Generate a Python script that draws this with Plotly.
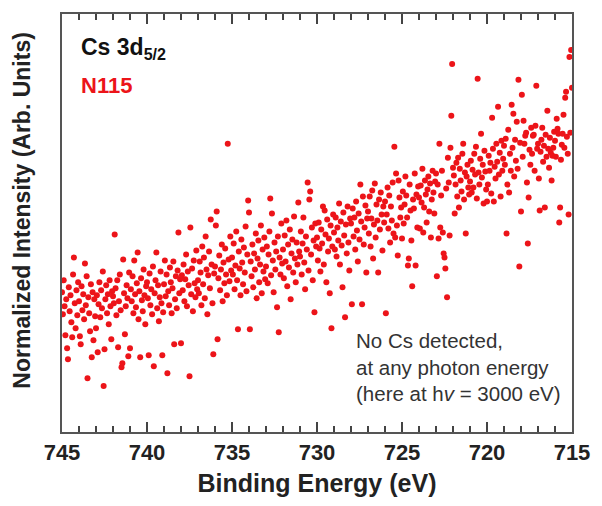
import plotly.graph_objects as go

# Binding-energy grid of the measurement (eV), start and step
energy_start = 745.0
energy_step = 0.05

# Intensity (arb. units), one row per 1 eV (745 -> 715)
intensity_rows = [
    [140, 118, 152, 126, 97, 133, 84, 73, 145, 121, 137, 110, 95, 158, 175, 129, 104, 142, 117, 150],
    [131, 96, 88, 146, 122, 138, 113, 169, 127, 156, 54, 135, 119, 101, 148, 75, 140, 92, 133, 116],
    [104, 137, 80, 128, 150, 115, 142, 124, 161, 46, 83, 133, 147, 119, 138, 108, 152, 126, 93, 141],
    [136, 129, 198, 144, 117, 152, 85, 131, 158, 122, 65, 69, 173, 139, 98, 126, 147, 134, 76, 160],
    [84, 143, 131, 156, 119, 172, 138, 125, 149, 180, 113, 141, 75, 154, 132, 121, 163, 137, 108, 146],
    [150, 134, 77, 159, 127, 143, 118, 166, 66, 139, 152, 180, 124, 147, 111, 135, 161, 129, 77, 120],
    [148, 172, 136, 158, 59, 141, 127, 165, 150, 119, 144, 171, 88, 133, 156, 124, 162, 200, 139, 153],
    [89, 157, 142, 168, 131, 153, 178, 126, 161, 147, 56, 205, 138, 164, 121, 172, 149, 135, 182, 143],
    [152, 139, 171, 160, 127, 186, 148, 175, 134, 196, 163, 118, 157, 181, 144, 213, 168, 129, 78, 159],
    [166, 207, 221, 93, 154, 177, 142, 163, 188, 131, 170, 149, 184, 158, 137, 289, 173, 151, 196, 162],
    [175, 158, 189, 143, 167, 201, 152, 103, 181, 164, 137, 193, 170, 148, 185, 160, 206, 141, 178, 232],
    [220, 103, 171, 156, 188, 145, 179, 163, 199, 134, 174, 192, 150, 168, 207, 139, 183, 161, 195, 153],
    [166, 186, 149, 178, 201, 234, 157, 219, 172, 140, 190, 163, 181, 125, 196, 100, 175, 158, 209, 169],
    [183, 154, 197, 171, 212, 146, 188, 165, 203, 133, 179, 193, 160, 216, 174, 150, 190, 168, 230, 181],
    [176, 201, 158, 189, 215, 170, 143, 196, 183, 250, 162, 233, 241, 178, 205, 152, 192, 120, 209, 186],
    [195, 172, 210, 184, 161, 203, 189, 226, 168, 222, 198, 150, 213, 181, 194, 139, 207, 104, 186, 218],
    [200, 183, 215, 176, 205, 192, 229, 168, 211, 187, 145, 220, 197, 115, 208, 179, 226, 190, 162, 214],
    [209, 128, 224, 196, 215, 183, 231, 202, 171, 219, 193, 248, 211, 128, 236, 188, 205, 227, 160, 214],
    [221, 199, 236, 186, 214, 242, 174, 208, 249, 195, 228, 212, 160, 233, 203, 240, 218, 182, 226, 210],
    [231, 119, 218, 245, 204, 237, 190, 226, 212, 250, 199, 286, 195, 259, 207, 177, 252, 235, 215, 225],
    [194, 241, 209, 228, 256, 237, 215, 167, 174, 248, 222, 192, 146, 233, 224, 259, 167, 238, 205, 246],
    [235, 204, 247, 230, 264, 200, 225, 252, 238, 210, 243, 256, 221, 249, 195, 233, 262, 240, 219, 251],
    [259, 156, 248, 194, 289, 205, 237, 262, 200, 179, 175, 164, 244, 135, 275, 250, 197, 285, 317, 369],
    [265, 257, 219, 248, 270, 236, 275, 225, 264, 252, 241, 279, 289, 233, 260, 199, 256, 268, 245, 238],
    [251, 272, 240, 263, 245, 279, 258, 286, 234, 354, 260, 248, 274, 299, 255, 268, 229, 282, 261, 243],
    [231, 248, 277, 262, 270, 239, 315, 284, 231, 266, 254, 289, 271, 326, 258, 280, 236, 292, 262, 274],
    [287, 268, 294, 199, 248, 303, 240, 279, 262, 328, 285, 319, 256, 293, 272, 311, 264, 353, 166, 290],
    [221, 338, 276, 312, 289, 297, 300, 250, 189, 235, 283, 268, 305, 279, 297, 298, 262, 307, 347, 284],
    [289, 254, 222, 281, 293, 305, 271, 287, 225, 298, 276, 322, 284, 265, 295, 280, 252, 277, 285, 301],
    [292, 276, 314, 304, 299, 210, 225, 273, 288, 299, 318, 285, 335, 341, 296, 279, 218, 376, 300, 383],
    [345],
]

x_ticks = [745, 740, 735, 730, 725, 720, 715]
x_range = [745, 715]
y_range = [0, 419]

intensity = [v for row in intensity_rows for v in row]
energy = [round(energy_start - i * energy_step, 2) for i in range(len(intensity))]

font_family = "Liberation Sans, Arial, sans-serif"
axis_color = "#555555"

fig = go.Figure()
fig.add_trace(go.Scatter(
    x=energy, y=intensity, mode="markers",
    marker=dict(color="#ec1419", size=6, line=dict(width=0)),
    showlegend=False, hoverinfo="x+y",
))

fig.update_layout(
    width=602, height=506,
    margin=dict(l=62, r=25, t=13, b=74),
    paper_bgcolor="white", plot_bgcolor="white",
    font=dict(family=font_family, color="#222222"),
    xaxis=dict(
        range=x_range, tickvals=x_ticks,
        ticktext=[f"<b>{t}</b>" for t in x_ticks],
        tickfont=dict(size=22, color="#222222"),
        ticks="inside", ticklen=10, tickwidth=2, tickcolor="#444444",
        minor=dict(dtick=1, tick0=745, ticks="inside", ticklen=6, tickwidth=1.5,
                   tickcolor="#444444", showgrid=False),
        showline=True, linecolor=axis_color, linewidth=1.5, mirror="allticks",
        showgrid=False, zeroline=False,
        title=dict(text="<b>Binding Energy (eV)</b>", font=dict(size=25, color="#222222"), standoff=10),
    ),
    yaxis=dict(
        range=y_range,
        showticklabels=False, ticks="",
        showline=True, linecolor=axis_color, linewidth=1.5, mirror=True,
        showgrid=False, zeroline=False,
    ),
    annotations=[
        dict(text="<b>Normalized Intensity (Arb. Units)</b>", xref="paper", yref="paper",
             x=-0.078, y=0.53, xanchor="center", yanchor="middle", textangle=-90,
             showarrow=False, font=dict(size=23, color="#222222")),
        dict(text="<b>Cs 3d<sub>5/2</sub></b>", xref="paper", yref="paper", x=0.033, y=0.918,
             xanchor="left", yanchor="middle", showarrow=False,
             font=dict(size=23, color="#111111")),
        dict(text="<b>N115</b>", xref="paper", yref="paper", x=0.033, y=0.83,
             xanchor="left", yanchor="middle", showarrow=False,
             font=dict(size=22, color="#ec1419")),
        dict(text="No Cs detected,<br>at any photon energy<br>(here at h<i>v</i> = 3000 eV)",
             xref="paper", yref="paper", x=0.572, y=0.06,
             xanchor="left", yanchor="bottom", align="left", showarrow=False,
             font=dict(size=20.5, color="#333333")),
    ],
)

fig.write_html("out.html")
